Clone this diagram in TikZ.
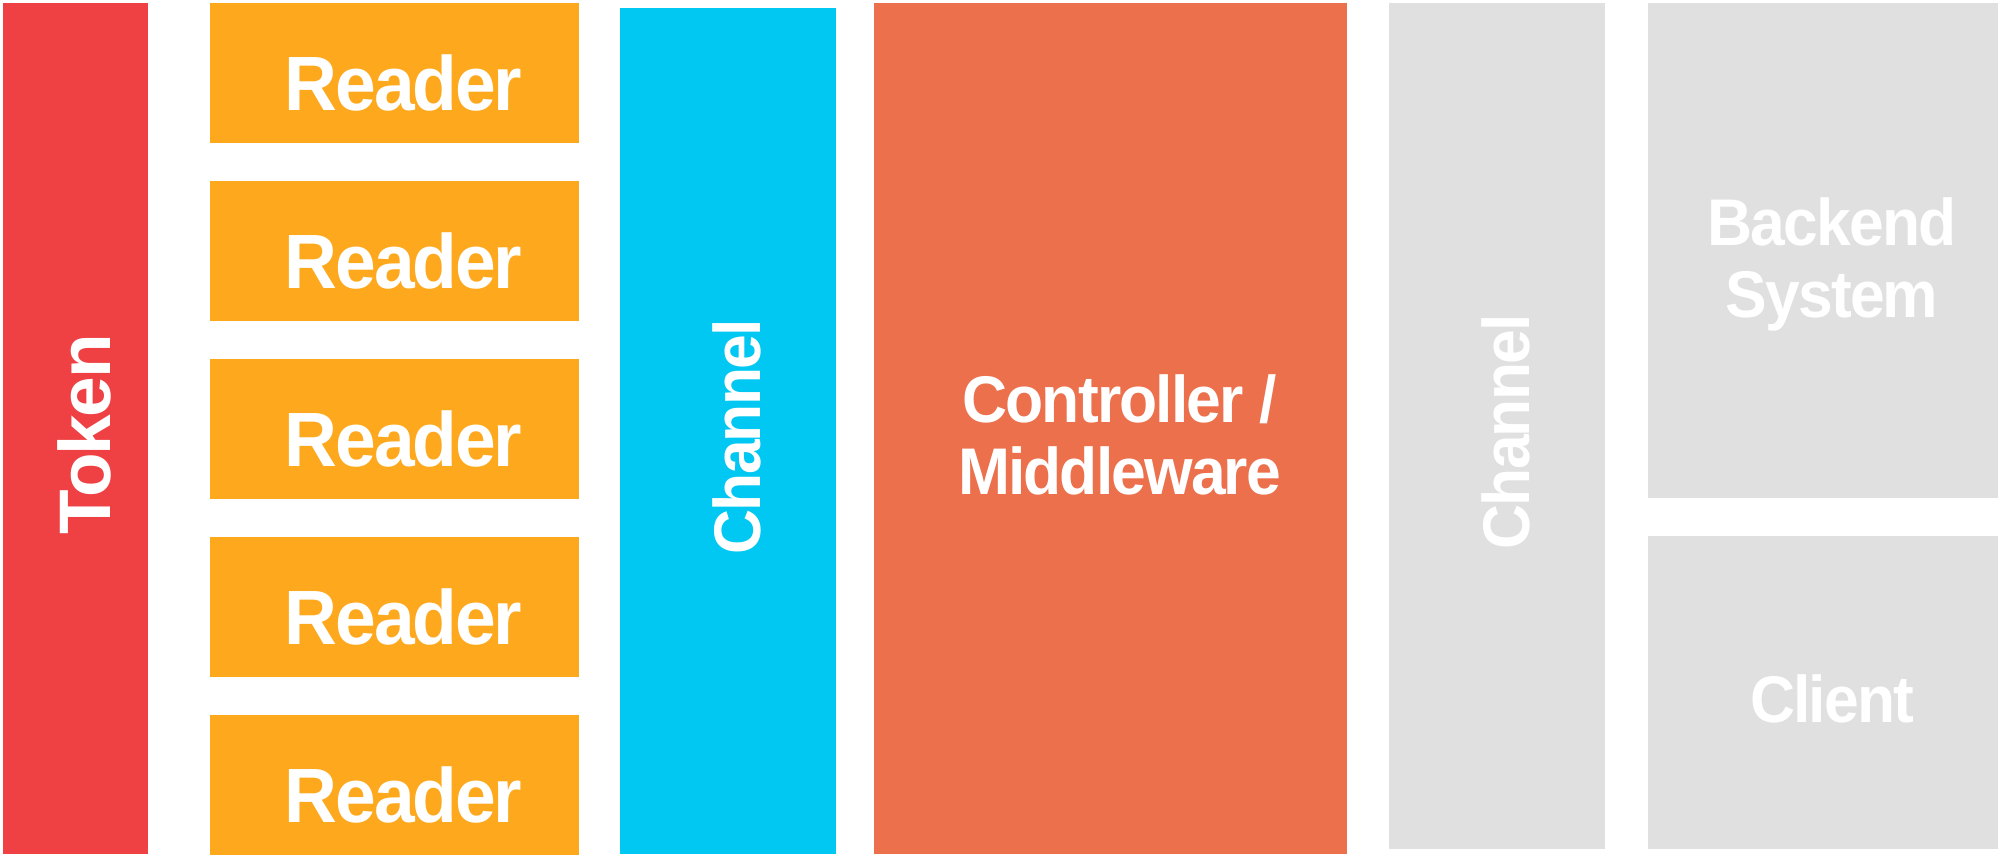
\documentclass[tikz,border=0pt]{standalone}
\usepackage{fontspec}
\setmainfont{Liberation Sans}
\newfontfamily\labelfont{Liberation Sans}[LetterSpace=-3]
\usetikzlibrary{positioning}

\begin{document}
\begin{tikzpicture}[
    x=0.5pt, y=-0.5pt,
    block/.style={
        fill=#1,
        draw=none,
        inner sep=0pt,
        outer sep=0pt,
        anchor=north west
    },
    block/.default=panelgray,
    tag/.style={
        text=white,
        align=center,
        inner sep=0pt,
        xshift=4.5pt,
        yshift=-3pt,
        rotate=#1,
        transform shape
    },
    tag/.default=0,
    tokentag/.style={
        tag=#1,
        font=\labelfont\bfseries\fontsize{36.5}{42}\selectfont
    },
    tokentag/.default=0,
    readertag/.style={
        tag=#1,
        font=\labelfont\bfseries\fontsize{38.5}{44}\selectfont,
        xscale=0.95,
        yshift=-2pt
    },
    readertag/.default=0,
    smalltag/.style={
        tag=#1,
        font=\labelfont\bfseries\fontsize{33}{36}\selectfont,
        xscale=0.945
    },
    smalltag/.default=0
]

\definecolor{tokenred}{RGB}{239,64,68}
\definecolor{readerorange}{RGB}{254,168,29}
\definecolor{channelcyan}{RGB}{0,200,242}
\definecolor{controlorange}{RGB}{235,112,75}
\definecolor{panelgray}{RGB}{224,224,224}

\useasboundingbox (0,0) rectangle (1998,855);

% A. Token column
\node[block=tokenred, minimum width=72.5pt, minimum height=425.5pt] (token) at (3,3) {};
\node[tokentag=90] (tokentext) at (token.center) {Token};

% B. Stack of readers
\node[block=readerorange, minimum width=184.5pt, minimum height=70pt] (reader1) at (210,3) {};
\node[block=readerorange, below=19pt of reader1, minimum width=184.5pt, minimum height=70pt] (reader2) {};
\node[block=readerorange, below=19pt of reader2, minimum width=184.5pt, minimum height=70pt] (reader3) {};
\node[block=readerorange, below=19pt of reader3, minimum width=184.5pt, minimum height=70pt] (reader4) {};
\node[block=readerorange, below=19pt of reader4, minimum width=184.5pt, minimum height=70pt] (reader5) {};
\node[readertag] (reader1text) at (reader1.center) {Reader};
\node[readertag] (reader2text) at (reader2.center) {Reader};
\node[readertag] (reader3text) at (reader3.center) {Reader};
\node[readertag] (reader4text) at (reader4.center) {Reader};
\node[readertag] (reader5text) at (reader5.center) {Reader};

% C. Channel and controller
\node[block=channelcyan, minimum width=108pt, minimum height=423pt] (channel) at (620,8) {};
\node[smalltag=90] (channeltext) at (channel.center) {Channel};
\node[block=controlorange, minimum width=236.5pt, minimum height=425.5pt] (controller) at (874,3) {};
\node[smalltag] (controllertext) at (controller.center) {Controller /\\Middleware};

% D. Outer channel, backend and client
\node[block=panelgray, minimum width=108pt, minimum height=423pt] (outchannel) at (1389,3) {};
\node[smalltag=90] (outchanneltext) at (outchannel.center) {Channel};
\node[block=panelgray, minimum width=175pt, minimum height=247.5pt] (backend) at (1648,3) {};
\node[smalltag, yshift=-4pt] (backendtext) at (backend.center) {Backend\\System};
\node[block=panelgray, minimum width=175pt, minimum height=156.5pt] (client) at (1648,536) {};
\node[smalltag] (clienttext) at (client.center) {Client};

\end{tikzpicture}
\end{document}
